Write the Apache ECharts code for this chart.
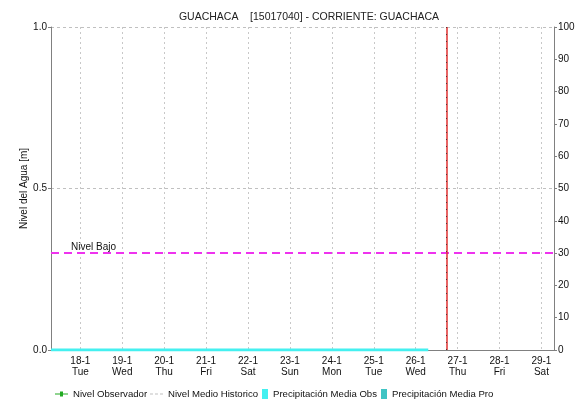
<!DOCTYPE html>
<html>
<head>
<meta charset="utf-8">
<script src="https://cdn.jsdelivr.net/npm/echarts@6/dist/echarts.min.js"></script>
<style>html,body{margin:0;padding:0;background:#fff}#c{width:582px;height:402px}</style>
</head>
<body>
<div id="c"></div>
<script>
// ---- data ----
const titleText = 'GUACHACA    [15017040] - CORRIENTE: GUACHACA';
const dayTicks = [18, 19, 20, 21, 22, 23, 24, 25, 26, 27, 28, 29];
const dayNames = ['Tue', 'Wed', 'Thu', 'Fri', 'Sat', 'Sun', 'Mon', 'Tue', 'Wed', 'Thu', 'Fri', 'Sat'];
const xMin = 17.3, xMax = 29.3;             // days of January
const nivelObservado = [];                  // no observed level data
const nivelMedioHistorico = [];             // none shown
const precipObsDays = [17.3, 18, 19, 20, 21, 22, 23, 24, 25, 26, 26.3];
const precipObsValues = [0, 0, 0, 0, 0, 0, 0, 0, 0, 0, 0];
const precipPro = [];
const nivelBajo = 0.3;
const ahora = 26.74;                        // current time marker

const chart = echarts.init(document.getElementById('c'));
const font = 'Liberation Sans, Arial, sans-serif';
const legendBase = {top: 389, itemHeight: 10, textStyle: {fontFamily: font, fontSize: 9.6, color: '#111'}, itemGap: 4, selectedMode: false, padding: 0};
chart.setOption({
  animation: false,
  title: {text: titleText, left: 304, textAlign: 'center', top: 7,
    textStyle: {fontFamily: font, fontSize: 10.5, fontWeight: 'normal', color: '#222'}},
  grid: {left: 51, right: 28, top: 27, bottom: 52},
  legend: [
    Object.assign({}, legendBase, {left: 55, data: [{name: 'Nivel Observador', icon: 'path://M0,4h5v-2h3v2h5v1h-5v2h-3v-2h-5z'}], itemWidth: 13}),
    Object.assign({}, legendBase, {left: 150, data: [{name: 'Nivel Medio Historico', icon: 'path://M0,4h3v1h-3zM5,4h3v1h-3zM10,4h3v1h-3zM0,0h0.01v0.01h-0.01zM13,9h0.01v0.01h-0.01z'}], itemWidth: 13}),
    Object.assign({}, legendBase, {left: 262, data: [{name: 'Precipitación Media Obs', icon: 'rect'}], itemWidth: 6}),
    Object.assign({}, legendBase, {left: 381, data: [{name: 'Precipitación Media Pro', icon: 'rect'}], itemWidth: 6})
  ],
  xAxis: [{
    type: 'value', min: xMin, max: xMax,
    axisLine: {lineStyle: {color: '#222', type: 'dotted', width: 1}},
    axisTick: {show: false, customValues: dayTicks},
    axisLabel: {customValues: dayTicks, fontFamily: font, fontSize: 10, color: '#111', lineHeight: 11, margin: 6,
      formatter: v => { const i = dayTicks.indexOf(Math.round(v)); return Math.round(v) + '-1\n' + dayNames[i]; }},
    splitLine: {show: true, lineStyle: {color: '#c8c8c8', type: [2, 3]}}
  }, {
    type: 'value', min: xMin, max: xMax, position: 'top',
    axisLine: {show: true, lineStyle: {color: '#808080'}},
    axisTick: {show: false}, axisLabel: {show: false}, splitLine: {show: false}
  }],
  yAxis: [{
    type: 'value', min: 0, max: 1, interval: 0.5,
    name: 'Nivel del Agua [m]', nameLocation: 'middle', nameGap: 22, nameMoveOverlap: false,
    nameTextStyle: {fontFamily: font, fontSize: 10, color: '#111'},
    axisLine: {show: true, lineStyle: {color: '#808080'}},
    axisTick: {show: true, length: 3, lineStyle: {color: '#808080'}},
    axisLabel: {fontFamily: font, fontSize: 10, color: '#111', margin: 4, formatter: v => v.toFixed(1)},
    splitLine: {show: true, lineStyle: {color: '#c0c0c0', type: [3, 3]}}
  }, {
    type: 'value', min: 0, max: 100, interval: 10, position: 'right',
    axisLine: {show: true, lineStyle: {color: '#808080'}},
    axisTick: {show: true, length: 3, lineStyle: {color: '#808080'}},
    axisLabel: {fontFamily: font, fontSize: 10, color: '#111', margin: 4},
    splitLine: {show: false}
  }],
  series: [
    {name: 'Nivel Observador', type: 'line', color: '#22aa22', data: nivelObservado, symbol: 'none',
      markLine: {silent: true, symbol: 'none', animation: false,
        data: [
          {yAxis: nivelBajo, lineStyle: {color: '#ee33ee', width: 2, type: [8, 5]},
            label: {show: true, position: 'insideStartTop', formatter: 'Nivel Bajo', distance: [20, 1],
              fontFamily: font, fontSize: 10, color: '#111'}},
          {xAxis: ahora, lineStyle: {color: '#e03030', width: 1.5, type: 'solid'}, label: {show: false}},
          {xAxis: ahora, lineStyle: {color: '#553333', width: 1, type: [1, 6]}, label: {show: false}}
        ]}},
    {name: 'Nivel Medio Historico', type: 'line', color: '#c0c0c0', lineStyle: {type: [3, 3]}, data: nivelMedioHistorico, symbol: 'none'},
    {name: 'Precipitación Media Obs', type: 'line', yAxisIndex: 1, color: '#44f0f0', symbol: 'none',
      lineStyle: {width: 3}, data: precipObsDays.map((d, i) => [d, precipObsValues[i]])},
    {name: 'Precipitación Media Pro', type: 'bar', yAxisIndex: 1, color: '#40c4c4', data: precipPro}
  ]
});
</script>
</body>
</html>
